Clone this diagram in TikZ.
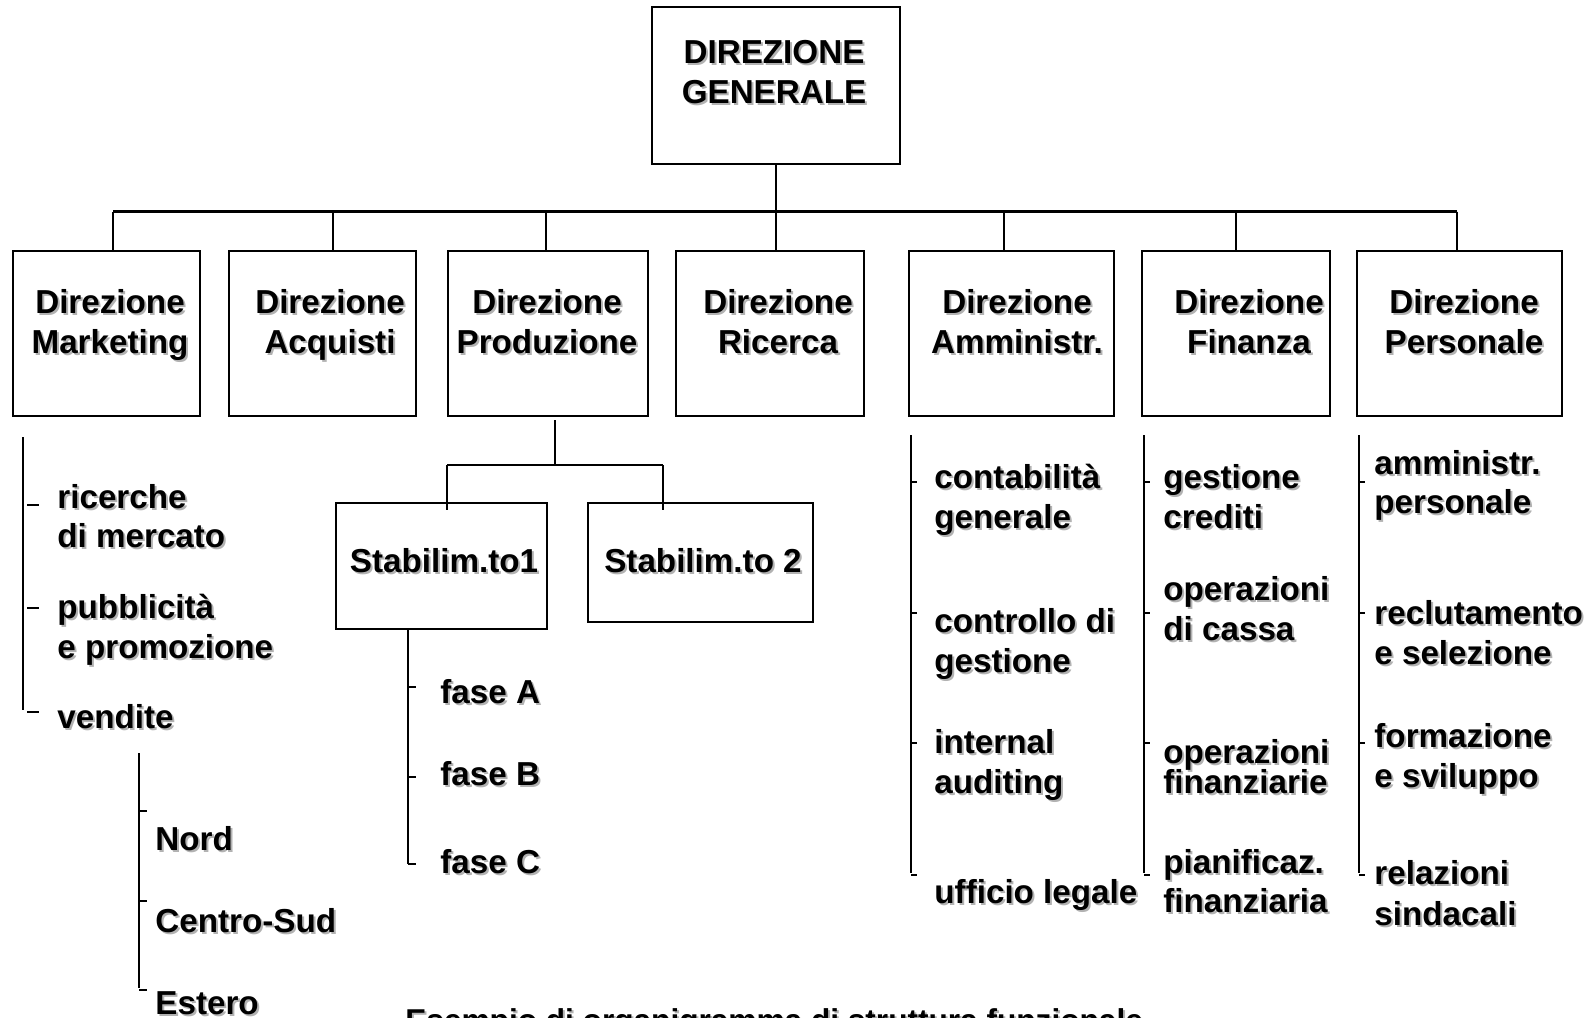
\documentclass[tikz,border=0pt]{standalone}
\usepackage{fontspec}
\setmainfont{Liberation Sans}
\usetikzlibrary{fit}
\newcommand\shd[1]{\rlap{\kern1pt\raisebox{-1pt}{\color{black!30}#1}}#1}
\newcommand\itm[4]{\node[lbl,anchor=base west] (#1) at (#2,#3) {\shd{#4}};}
\newcommand\ctr[4]{\node[lbl,anchor=base] (#1) at (#2,#3) {\shd{#4}};}
\tikzset{
  box/.style={draw, line width=1.25pt, inner sep=0pt},
  lbl/.style={font=\bfseries\fontsize{16.6}{20}\selectfont, inner sep=0pt},
  ln/.style={line width=1.2pt},
}
\begin{document}
\begin{tikzpicture}[x=0.5pt,y=-0.5pt]
\useasboundingbox (0,0) rectangle (1594,1017);
\clip (0,0) rectangle (1594,1017);
\fill[white] (0,0) rectangle (1594,1017);

% boxes
\node[box, fit={(652,7) (900,164)}] (top) {};
\node[box, fit={(13,251) (200,416)}] (mk) {};
\node[box, fit={(229,251) (416,416)}] (aq) {};
\node[box, fit={(448,251) (648,416)}] (pr) {};
\node[box, fit={(676,251) (864,416)}] (ri) {};
\node[box, fit={(909,251) (1114,416)}] (am) {};
\node[box, fit={(1142,251) (1330,416)}] (fi) {};
\node[box, fit={(1357,251) (1562,416)}] (pe) {};
\node[box, fit={(336,503) (547,629)}] (s1) {};
\node[box, fit={(588,503) (813,622)}] (s2) {};

% top connectors
\coordinate (hL) at (113,211.5);
\coordinate (hR) at (1457,211.5);
\coordinate (d2) at (333,211.5);
\coordinate (d3) at (546,211.5);
\coordinate (d5) at (1004,211.5);
\coordinate (d6) at (1236,211.5);
\draw[ln] (hL) -- (hR);
\draw[ln] (top.south) -- (top.south |- ri.north);
\draw[ln] (hL) -- (hL |- mk.north);
\draw[ln] (d2) -- (d2 |- aq.north);
\draw[ln] (d3) -- (d3 |- pr.north);
\draw[ln] (d5) -- (d5 |- am.north);
\draw[ln] (d6) -- (d6 |- fi.north);
\draw[ln] (hR) -- (hR |- pe.north);

% production
\coordinate (p0) at (555,420);
\coordinate (p1) at (555,465);
\coordinate (pl) at (447,465);
\coordinate (pr2) at (663,465);
\coordinate (pl2) at (447,510);
\coordinate (pr3) at (663,510);
\draw[ln] (p0) -- (p1);
\draw[ln] (pl) -- (pr2);
\draw[ln] (pl) -- (pl2);
\draw[ln] (pr2) -- (pr3);

% phases
\coordinate (fa0) at (408,629);
\coordinate (fa1) at (408,864);
\draw[ln] (fa0) -- (fa1);
\foreach \y in {687,777,864} \draw[ln] (408,\y) -- (416,\y);

% marketing list
\draw[ln] (23,437) -- (23,710);
\foreach \y in {505,608,712} \draw[ln] (27,\y) -- (39,\y);
\draw[ln] (139,753) -- (139,988);
\foreach \y in {811,901,990} \draw[ln] (139,\y) -- (147,\y);

% right lists
\foreach \x in {911,1144,1359} {
  \draw[ln] (\x,435) -- (\x,873);
  \foreach \y in {482,613,743,875} \draw[ln] (\x,\y) -- (\x+6,\y);
}

% texts
\ctr{tg1}{774}{63}{DIREZIONE}
\ctr{tg2}{774}{103.5}{GENERALE}
\ctr{mk1}{110}{313}{Direzione}
\ctr{mk2}{110}{353}{Marketing}
\ctr{aq1}{330}{313}{Direzione}
\ctr{aq2}{330}{353}{Acquisti}
\ctr{pr1}{547}{313}{Direzione}
\ctr{pr2t}{547}{353}{Produzione}
\ctr{ri1}{778}{313}{Direzione}
\ctr{ri2}{778}{353}{Ricerca}
\ctr{am1}{1017}{313}{Direzione}
\ctr{am2}{1017}{353}{Amministr.}
\ctr{fi1}{1249}{313}{Direzione}
\ctr{fi2}{1249}{353}{Finanza}
\ctr{pe1}{1464}{313}{Direzione}
\ctr{pe2}{1464}{353}{Personale}
\ctr{s1t}{444}{572}{Stabilim.to1}
\ctr{s2t}{703}{572}{Stabilim.to 2}

\itm{m1}{57}{508}{ricerche}
\itm{m2}{57}{547}{di mercato}
\itm{m3}{57}{618}{pubblicità}
\itm{m4}{57}{658}{e promozione}
\itm{m5}{57}{728}{vendite}
\itm{v1}{155}{850}{Nord}
\itm{v2}{155}{932}{Centro-Sud}
\itm{v3}{155}{1014}{Estero}

\itm{f1}{440}{703}{fase A}
\itm{f2}{440}{785}{fase B}
\itm{f3}{440}{873}{fase C}

\itm{a1}{934}{488}{contabilità}
\itm{a2}{934}{528}{generale}
\itm{a3}{934}{632}{controllo di}
\itm{a4}{934}{672}{gestione}
\itm{a5}{934}{753}{internal}
\itm{a6}{934}{793}{auditing}
\itm{a7}{934}{903}{ufficio legale}

\itm{b1}{1163}{488}{gestione}
\itm{b2}{1163}{528}{crediti}
\itm{b3}{1163}{600}{operazioni}
\itm{b4}{1163}{640}{di cassa}
\itm{b5}{1163}{763}{operazioni}
\itm{b6}{1163}{793}{finanziarie}
\itm{b7}{1163}{873}{pianificaz.}
\itm{b8}{1163}{912}{finanziaria}

\itm{c1}{1374}{474}{amministr.}
\itm{c2}{1374}{513}{personale}
\itm{c3}{1374}{624}{reclutamento}
\itm{c4}{1374}{664}{e selezione}
\itm{c5}{1374}{747}{formazione}
\itm{c6}{1374}{787}{e sviluppo}
\itm{c7}{1374}{884}{relazioni}
\itm{c8}{1374}{925}{sindacali}

\node[lbl, font=\bfseries\fontsize{15.8}{19}\selectfont, anchor=base west] (cap) at (405,1031) {\shd{Esempio di organigramma di struttura funzionale}};
\end{tikzpicture}
\end{document}
